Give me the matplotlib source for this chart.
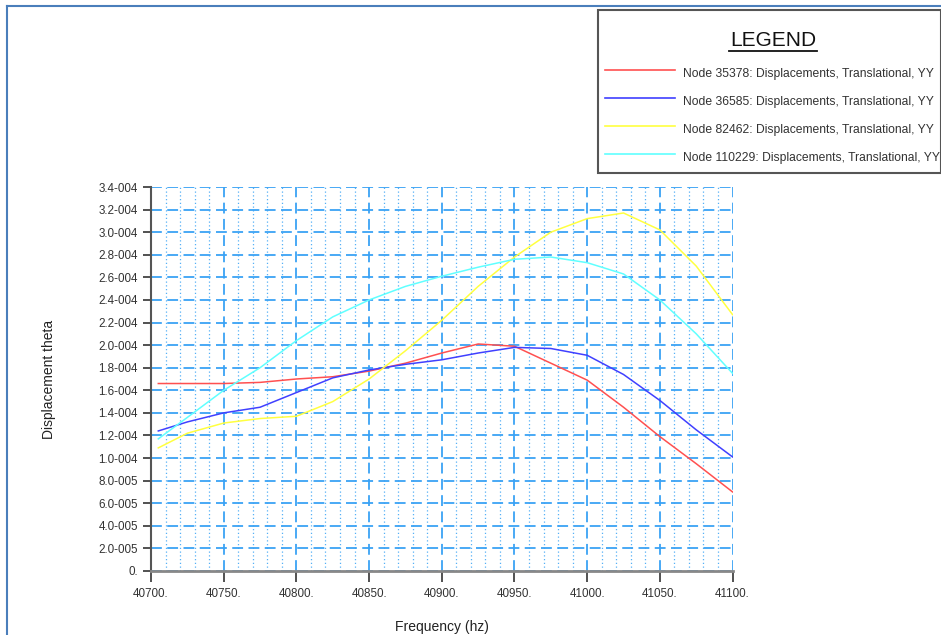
import numpy as np
import matplotlib
matplotlib.use('Agg')
from matplotlib import pyplot as plt
from matplotlib.lines import Line2D
from matplotlib.patches import Rectangle
from matplotlib.ticker import MultipleLocator, FuncFormatter

plt.rcParams['font.family'] = ['Liberation Sans', 'DejaVu Sans']

freq = [40705, 40725, 40750, 40775, 40800, 40825, 40850, 40875, 40900,
        40925, 40950, 40975, 41000, 41025, 41050, 41075, 41100]

# values in units of 1e-4
node_35378 = [1.66, 1.66, 1.66, 1.67, 1.70, 1.72, 1.77, 1.84, 1.93,
              2.01, 1.99, 1.84, 1.69, 1.45, 1.19, 0.95, 0.70]
node_36585 = [1.24, 1.32, 1.40, 1.45, 1.58, 1.71, 1.78, 1.83, 1.87,
              1.93, 1.98, 1.97, 1.91, 1.74, 1.51, 1.25, 1.01]
node_82462 = [1.09, 1.22, 1.31, 1.35, 1.37, 1.50, 1.70, 1.95, 2.22,
              2.52, 2.78, 3.00, 3.12, 3.17, 3.02, 2.70, 2.27]
node_110229 = [1.17, 1.36, 1.60, 1.80, 2.04, 2.25, 2.40, 2.52, 2.61,
               2.69, 2.76, 2.78, 2.73, 2.63, 2.40, 2.10, 1.75]

names = ['Node 35378: Displacements, Translational, YY',
         'Node 36585: Displacements, Translational, YY',
         'Node 82462: Displacements, Translational, YY',
         'Node 110229: Displacements, Translational, YY']
series = [node_35378, node_36585, node_82462, node_110229]
colors = ['#ff5050', '#4040ff', '#ffff40', '#60ffff']

fig = plt.figure(figsize=(9.41, 6.35), dpi=100)
ax = fig.add_axes([0.1605, 0.1008, 0.618, 0.6047])

for s, c in zip(series, colors):
    ax.plot(freq, np.array(s) * 1e-4, color=c, lw=1.1, zorder=3)

ax.set_xlim(40700, 41100)
ax.set_ylim(0, 3.4e-4)
ax.xaxis.set_major_locator(MultipleLocator(50))
ax.xaxis.set_minor_locator(MultipleLocator(10))
ax.yaxis.set_major_locator(MultipleLocator(0.2e-4))


def yfmt(v, pos):
    if abs(v) < 1e-12:
        return '0.'
    e = int(np.floor(np.log10(abs(v)) + 1e-9))
    m = v / 10 ** e
    return '%.1f-%03d' % (m, -e)


ax.yaxis.set_major_formatter(FuncFormatter(yfmt))
ax.xaxis.set_major_formatter(FuncFormatter(lambda v, p: '%d.' % v))

ax.grid(True, which='major', axis='both', color='#3aa2f5', lw=1.3,
        linestyle=(0, (6, 3)), zorder=1)
ax.grid(True, which='minor', axis='x', color='#55b0f7', lw=0.9,
        linestyle=(0, (1, 2)), zorder=1)

for side in ['top', 'right']:
    ax.spines[side].set_visible(False)
ax.spines['left'].set_color('#555555')
ax.spines['left'].set_linewidth(1.5)
ax.spines['bottom'].set_color('#888888')
ax.spines['bottom'].set_linewidth(2)
ax.tick_params(axis='both', which='major', labelsize=8.4, colors='#333333',
               direction='out', length=6, width=1.2)
ax.tick_params(axis='x', which='major', length=8, pad=4)
ax.tick_params(axis='x', which='minor', length=0)
ax.set_xlabel('Frequency (hz)', fontsize=10, color='#222222')
ax.set_ylabel('Displacement theta', fontsize=10, color='#222222')
ax.xaxis.set_label_coords(0.5, -0.128)
ax.yaxis.set_label_coords(-0.164, 0.5)

# outer blue frame lines
fig.add_artist(Line2D([7 / 941, 1], [1 - 6 / 635, 1 - 6 / 635],
                      color='#4a7ebb', lw=1.5, transform=fig.transFigure))
fig.add_artist(Line2D([7 / 941, 7 / 941], [0, 1 - 6 / 635],
                      color='#4a7ebb', lw=1.5, transform=fig.transFigure))

# legend box
W, H = 941, 635
fig.add_artist(Rectangle((598 / W, 1 - 173 / H), 343 / W, 163 / H,
                         transform=fig.transFigure, fill=False,
                         edgecolor='#555555', lw=1.5))
fig.text(773 / W, 1 - 41 / H, 'LEGEND', fontsize=15, ha='center',
         va='center', color='#111111')
fig.add_artist(Line2D([729 / W, 817 / W], [1 - 51 / H, 1 - 51 / H],
                      color='#111111', lw=1.3, transform=fig.transFigure))
for i, (n, c) in enumerate(zip(names, colors)):
    yy = 1 - (70 + 28 * i) / H
    fig.add_artist(Line2D([605 / W, 675 / W], [yy, yy], color=c, lw=1.2,
                          transform=fig.transFigure))
    fig.text(683 / W, yy - 4 / H, n, fontsize=8.7, ha='left', va='center',
             color='#333333')

fig.savefig('out.png', dpi=100)
